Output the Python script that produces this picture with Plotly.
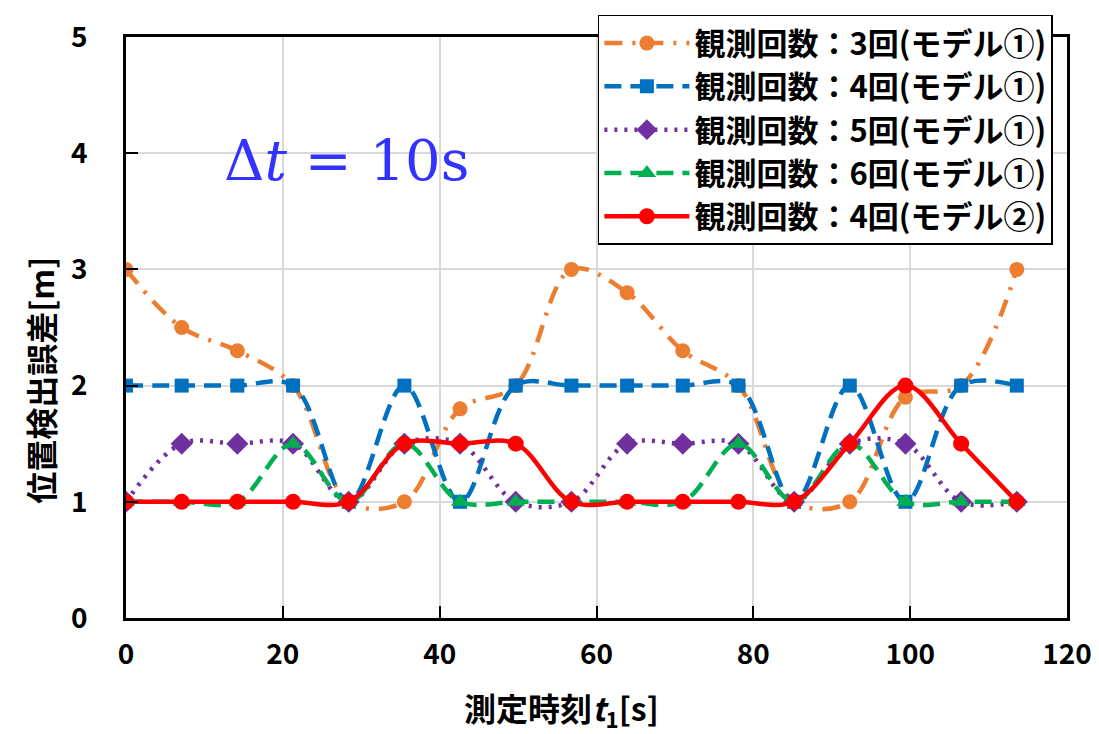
import plotly.graph_objects as go

t1 = [0, 7.1, 14.2, 21.3, 28.4, 35.5, 42.6, 49.7, 56.8, 63.9, 71.0, 78.1, 85.2, 92.3, 99.4, 106.5, 113.6]
obs3_m1 = [3, 2.5, 2.3, 2, 1, 1, 1.8, 2, 3, 2.8, 2.3, 2, 1, 1, 1.9, 2, 3]
obs4_m1 = [2, 2, 2, 2, 1, 2, 1, 2, 2, 2, 2, 2, 1, 2, 1, 2, 2]
obs5_m1 = [1, 1.5, 1.5, 1.5, 1, 1.5, 1.5, 1, 1, 1.5, 1.5, 1.5, 1, 1.5, 1.5, 1, 1]
obs6_m1 = [1, 1, 1, 1.5, 1, 1.5, 1, 1, 1, 1, 1, 1.5, 1, 1.5, 1, 1, 1]
obs4_m2 = [1, 1, 1, 1, 1, 1.5, 1.5, 1.5, 1, 1, 1, 1, 1, 1.5, 2, 1.5, 1]

names = ["観測回数：3回(モデル①)", "観測回数：4回(モデル①)", "観測回数：5回(モデル①)",
         "観測回数：6回(モデル①)", "観測回数：4回(モデル②)"]
x_ticks = [0, 20, 40, 60, 80, 100, 120]
y_ticks = [0, 1, 2, 3, 4, 5]

FONT = "Noto Sans CJK JP"

series = [
    (obs3_m1, "#ED7D31", "18px,10px,3px,10px", "circle", 15),
    (obs4_m1, "#0070C0", "17px,9px", "square", 14),
    (obs5_m1, "#7030A0", "3px,7px", "diamond", 17),
    (obs6_m1, "#00B050", "17px,9px", "triangle-up", 16),
    (obs4_m2, "#FF0000", "solid", "circle", 16),
]

fig = go.Figure()
for (vals, color, dash, sym, size), name in zip(series, names):
    fig.add_trace(go.Scatter(
        x=t1, y=vals, name=name, mode="lines+markers",
        line=dict(color=color, width=4.5, dash=dash, shape="spline", smoothing=1),
        marker=dict(color=color, symbol=sym, size=size, line=dict(width=0)),
    ))

axis_common = dict(
    showline=True, linecolor="black", linewidth=2.5, mirror=True,
    ticks="inside", ticklen=12, tickwidth=2, tickcolor="black",
    showgrid=True, gridcolor="#D9D9D9", gridwidth=2, zeroline=False,
    automargin=False,
    tickfont=dict(family=FONT, size=28, color="black", weight="bold"),
)

fig.update_xaxes(range=[0, 120], tickvals=x_ticks, ticklabelstandoff=10, **axis_common)
fig.update_yaxes(range=[0, 5], tickvals=y_ticks, ticklabelstandoff=30, **axis_common)

title_font = dict(family=FONT, size=32, color="black", weight="bold")
fig.add_annotation(x=0.463, y=-0.156, xref="paper", yref="paper", showarrow=False,
                   xanchor="center", yanchor="middle",
                   text="測定時刻<i>t</i><sub>1</sub>[s]", font=title_font)
fig.add_annotation(x=-0.0914, y=0.41, xref="paper", yref="paper", showarrow=False,
                   xanchor="center", yanchor="middle", textangle=-90,
                   text="位置検出誤差[m]", font=title_font)

fig.add_annotation(x=0.102, y=0.788, xref="paper", yref="paper", showarrow=False,
                   xanchor="left", yanchor="middle",
                   text="Δ<i>t</i> = 10s",
                   font=dict(family="DejaVu Serif", size=56, color="#3333FF"))

# page body has an 8px margin, so the figure is shrunk by 8px to fit the window
fig.update_layout(
    width=1091, height=726,
    margin=dict(l=118, r=32, t=29, b=116, autoexpand=False),
    plot_bgcolor="white", paper_bgcolor="white",
    legend=dict(x=0.985, y=1.038, xanchor="right", yanchor="top",
                bgcolor="white", bordercolor="black", borderwidth=1.5,
                font=dict(family=FONT, size=31, color="black", weight="bold"),
                itemwidth=85, tracegroupgap=0),
    showlegend=True,
)

fig.write_html("out.html")
